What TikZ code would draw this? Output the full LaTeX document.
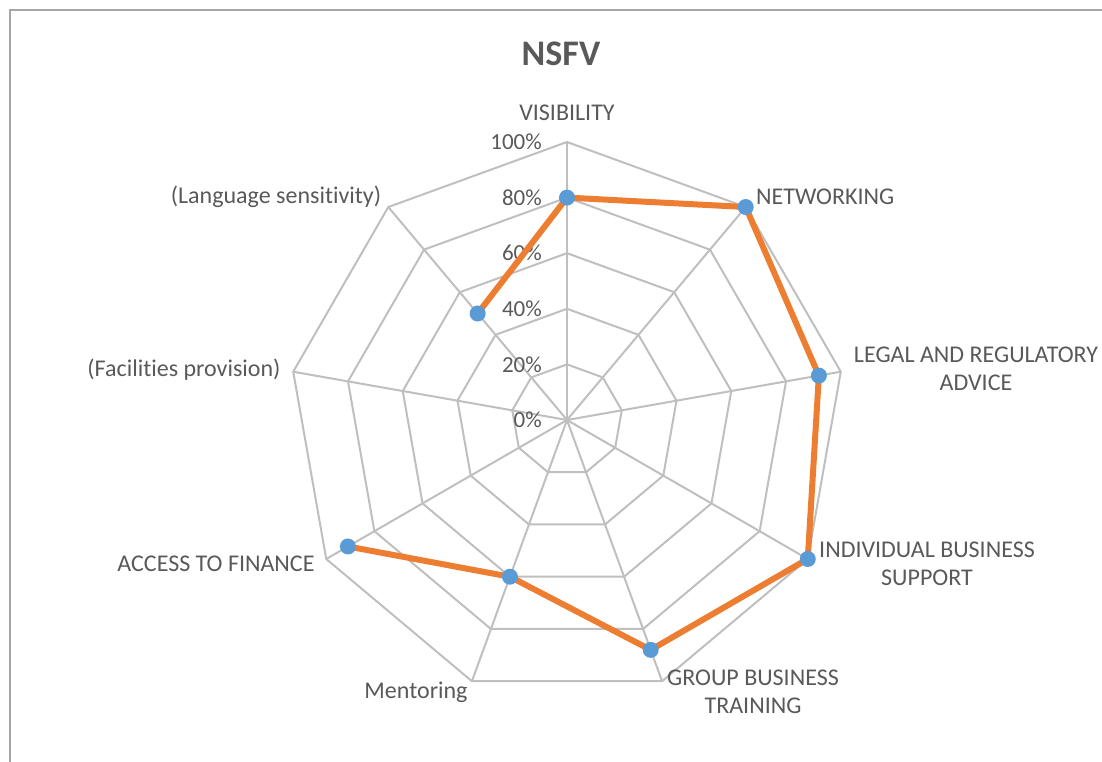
\documentclass[tikz,border=0pt]{standalone}
\usepackage{fontspec}
\setmainfont{Carlito}[Ligatures=NoCommon]
\usepackage{xcolor}
\usepackage{tikz}
\usetikzlibrary{positioning,calc}

\definecolor{gridgray}{HTML}{BFBFBF}
\definecolor{framegray}{HTML}{A6A6A6}
\definecolor{textgray}{HTML}{595959}
\definecolor{seriesorange}{HTML}{ED7D31}
\definecolor{markerblue}{HTML}{5B9BD5}

\tikzset{
  grid/.style={draw=gridgray, line width=2pt},
  series/.style={draw=seriesorange, line width=6pt, line join=round},
  dot/.style={circle, fill=markerblue, minimum size=16pt, inner sep=0pt},
  catlabel/.style={font=\fontsize{24}{28.5}\selectfont, text=textgray, align=center, inner sep=0pt},
  ticklabel/.style={font=\fontsize{23}{28}\selectfont, text=textgray, anchor=east, inner sep=0pt}
}

\begin{document}
\begin{tikzpicture}[x=1pt, y=1pt]
    \useasboundingbox (0,0) rectangle (1102,762);
    % Chart frame
    \draw[framegray, line width=1.8pt] (10,0) -- (10,752) -- (1102,752);

    \begin{scope}[shift={(567,342)}]
    \coordinate (O) at (0,0);
    \node[font=\fontsize{36}{42}\selectfont\bfseries, text=textgray] (title) at (-6,366) {NSFV};

    % Rings and spokes
    \foreach \r in {1,...,5} {
        \draw[grid] (90:55.6*\r)
            \foreach \k in {1,...,8} { -- ({90-40*\k}:55.6*\r) } -- cycle;
    }
    \foreach \k in {0,...,8} {
        \draw[grid] (O) -- ({90-40*\k}:278);
    }

    % Axis values
    \foreach \v [count=\i from 0] in {0,20,40,60,80,100} {
        \node[ticklabel] (tick\v) at (-25,55.6*\i) {\v\%};
    }

    % Categories
    \node[catlabel] (visibility) at (0,307) {VISIBILITY};
    \node[catlabel, anchor=west] (networking) at (189,223) {NETWORKING};
    \node[catlabel] (legal) at (409,51) {LEGAL AND REGULATORY\\ADVICE};
    \node[catlabel] (individual) at (360,-144) {INDIVIDUAL BUSINESS\\SUPPORT};
    \node[catlabel] (group) at (186,-272) {GROUP BUSINESS\\TRAINING};
    \node[catlabel] (mentoring) at (-151,-272) {Mentoring};
    \node[catlabel] (finance) at (-351,-144) {ACCESS TO FINANCE};
    \node[catlabel] (facilities) at (-383,50) {(Facilities provision)};
    \node[catlabel] (language) at (-291,223) {(Language sensitivity)};

    % NSFV series (no value for facilities)
    \coordinate (p-vis) at (90:0.80*278);
    \coordinate (p-net) at (50:1.00*278);
    \coordinate (p-leg) at (10:0.92*278);
    \coordinate (p-ind) at (-30:1.00*278);
    \coordinate (p-grp) at (-70:0.88*278);
    \coordinate (p-men) at (-110:0.60*278);
    \coordinate (p-acc) at (-150:0.91*278);
    \coordinate (p-lng) at (130:0.50*278);
    \draw[series] (p-acc) -- (p-men) -- (p-grp) -- (p-ind) -- (p-leg) -- (p-net) -- (p-vis) -- (p-lng);
    \foreach \p in {vis,net,leg,ind,grp,men,acc,lng} {
        \node[dot] (m-\p) at (p-\p) {};
    }
    \end{scope}
\end{tikzpicture}
\end{document}
